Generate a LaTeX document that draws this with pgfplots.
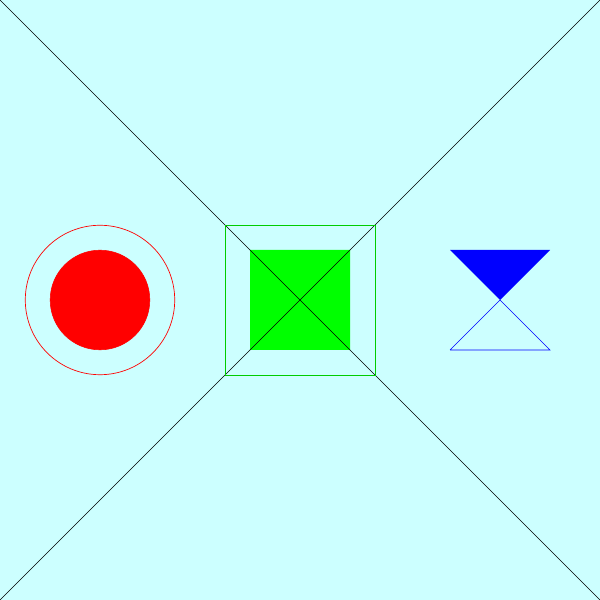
\documentclass[border=0pt]{standalone}
\usepackage{pgfplots}
\pgfplotsset{compat=1.18}
\definecolor{bg}{HTML}{CCFFFF}
\begin{document}
\begin{tikzpicture}
\begin{axis}[width=6in,height=6in,scale only axis,hide axis,xmin=0,xmax=600,ymin=0,ymax=600,clip=true]
\addplot[draw=none,fill=bg] coordinates {(0,0)(600,0)(600,600)(0,600)} \closedcycle;
\addplot[black,thin] coordinates {(0,0)(600,600)};
\addplot[black,thin] coordinates {(0,600)(600,0)};
\addplot[draw=none,fill=green] coordinates {(250,250)(350,250)(350,350)(250,350)(250,250)};
\addplot[green!80!black,thin] coordinates {(225,225)(375,225)(375,375)(225,375)(225,225)};
\addplot[black,thin] coordinates {(250,350)(350,250)};
\addplot[black,thin] coordinates {(250,250)(350,350)};
\addplot[only marks,mark=*,mark size=36pt,red,mark options={fill=red,draw=red}] coordinates {(100,300)};
\addplot[only marks,mark=o,mark size=54pt,red,mark options={line width=0.5pt}] coordinates {(100,300)};
\addplot[draw=none,fill=blue] coordinates {(450,350)(550,350)(500,300)(450,350)};
\addplot[blue,thin] coordinates {(450,250)(550,250)(500,300)(450,250)};
\end{axis}
\end{tikzpicture}
\end{document}
